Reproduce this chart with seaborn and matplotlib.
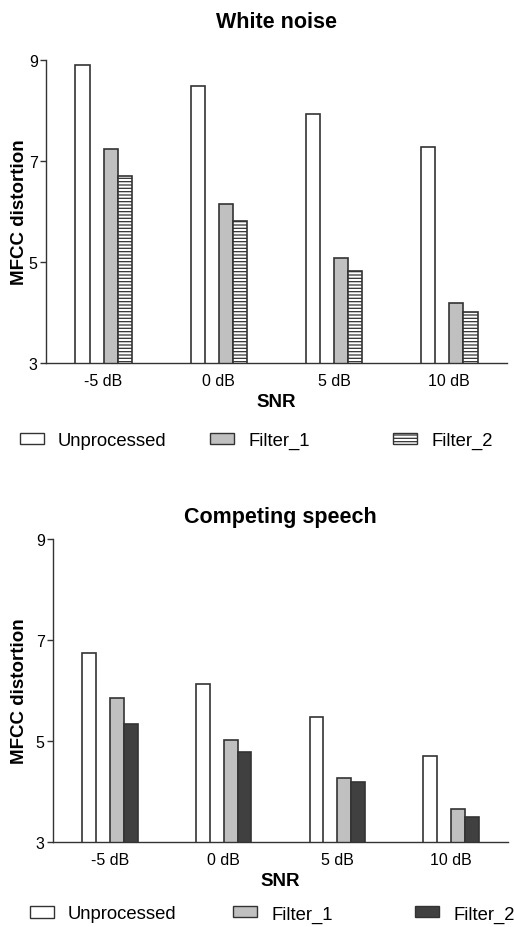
import numpy as np
import pandas as pd
import seaborn as sns
import matplotlib.pyplot as plt
import matplotlib.patches as mpatches

# Data
snr = ['-5 dB', '0 dB', '5 dB', '10 dB']
series = ['Unprocessed', 'Filter_1', 'Filter_2']

white_unproc = [8.91, 8.48, 7.93, 7.27]
white_f1 = [7.23, 6.14, 5.08, 4.19]
white_f2 = [6.71, 5.82, 4.82, 4.01]

speech_unproc = [6.74, 6.13, 5.47, 4.71]
speech_f1 = [5.86, 5.02, 4.27, 3.66]
speech_f2 = [5.33, 4.79, 4.19, 3.49]

sns.set_style('ticks')
plt.rcParams['font.family'] = ['Liberation Sans', 'DejaVu Sans']
plt.rcParams['text.color'] = 'black'
plt.rcParams['axes.labelcolor'] = 'black'
plt.rcParams['hatch.color'] = 'black'
plt.rcParams['hatch.linewidth'] = 0.9

W, H = 514, 928
edge = '#333333'


def make_df(u, f1, f2):
    rows = []
    for name, vals in zip(series, [u, f1, f2]):
        for s, v in zip(snr, vals):
            rows.append({'snr': s, 'series': name, 'value': v})
    return pd.DataFrame(rows)


def draw_panel(ax, df, title, colors, hatch2, title_pad):
    # empty ' ' level leaves the gap between Unprocessed and Filter_1
    hue_order = ['Unprocessed', ' ', 'Filter_1', 'Filter_2']
    pal = {'Unprocessed': colors[0], ' ': 'white', 'Filter_1': colors[1], 'Filter_2': colors[2]}
    sns.barplot(data=df, x='snr', y='value', hue='series', hue_order=hue_order,
                order=snr, palette=pal, width=0.49, errorbar=None, legend=False,
                saturation=1, edgecolor=edge, linewidth=1.2, ax=ax)
    bars = [c for c in ax.containers if len(c) > 0]
    if hatch2:
        for p in bars[2]:
            p.set_hatch(hatch2)

    ax.set_ylim(3, 9)
    ax.set_xlim(-0.5, 3.5)
    ax.set_yticks([3, 5, 7, 9])
    sns.despine(ax=ax)
    for s in ['left', 'bottom']:
        ax.spines[s].set_color(edge)
        ax.spines[s].set_linewidth(1.0)
    ax.tick_params(axis='y', length=4, width=1, pad=2, labelsize=11.5,
                   color=edge, labelcolor='black')
    ax.tick_params(axis='x', length=0, pad=7, labelsize=11.5, labelcolor='black')
    ax.set_title(title, fontsize=15.5, fontweight='bold', pad=title_pad)
    ax.set_xlabel('SNR', fontsize=13.5, fontweight='bold', labelpad=4)
    ax.set_ylabel('MFCC distortion', fontsize=13.5, fontweight='bold')


def add_legend(fig, colors, hatch2, xs, y):
    handles = [
        mpatches.Patch(facecolor=colors[0], edgecolor=edge, label=series[0]),
        mpatches.Patch(facecolor=colors[1], edgecolor=edge, label=series[1]),
        mpatches.Patch(facecolor=colors[2], edgecolor=edge, hatch=hatch2, label=series[2]),
    ]
    for h, x in zip(handles, xs):
        fig.legend(handles=[h], loc='center left', bbox_to_anchor=(x / W, 1 - y / H),
                   frameon=False, fontsize=13.3, handlelength=1.3, handleheight=0.55,
                   handletextpad=0.76, borderpad=0, borderaxespad=0)


fig = plt.figure(figsize=(W / 100, H / 100), dpi=100)
ax1 = fig.add_axes([46 / W, 1 - 364 / H, 461 / W, 303 / H])
ax2 = fig.add_axes([53 / W, 1 - 843 / H, 455 / W, 303 / H])

top_colors = ['white', '#c0c0c0', 'white']
bot_colors = ['white', '#c0c0c0', '#404040']

draw_panel(ax1, make_df(white_unproc, white_f1, white_f2), 'White noise', top_colors, '-----', 24)
draw_panel(ax2, make_df(speech_unproc, speech_f1, speech_f2), 'Competing speech', bot_colors, None, 12)

ax1.yaxis.set_label_coords(-0.04, 0.5)
ax2.yaxis.set_label_coords(-0.056, 0.5)

add_legend(fig, top_colors, '-----', [20, 210, 393], 441.5)
add_legend(fig, bot_colors, None, [30, 233, 415], 915)

fig.savefig('out.png', dpi=100)
